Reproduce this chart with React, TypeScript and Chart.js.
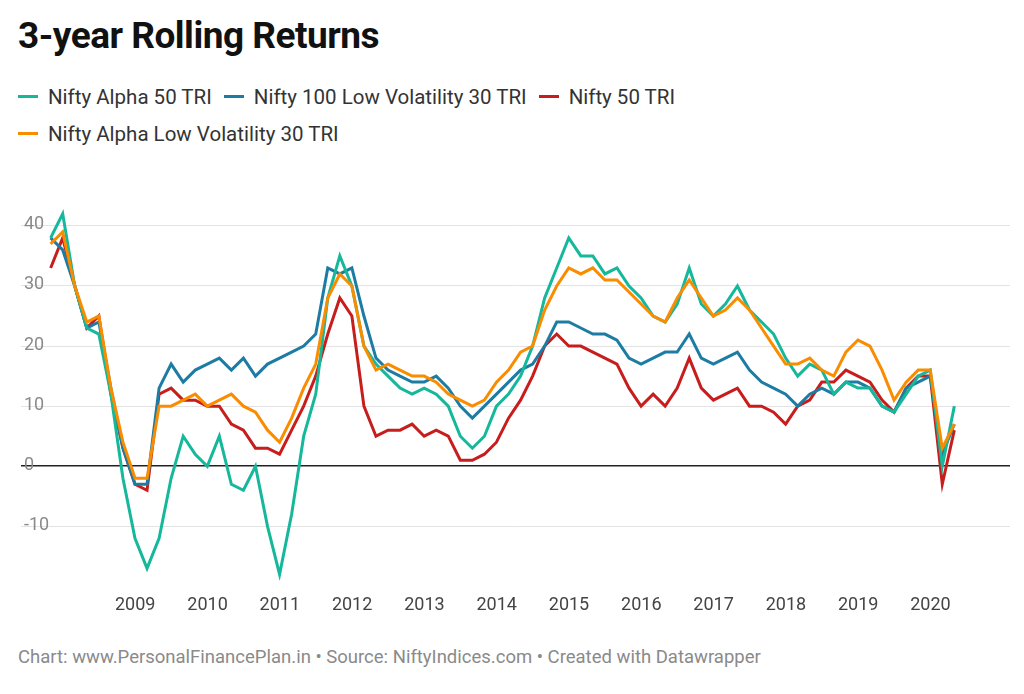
import React, { useEffect, useRef } from "react";
import { Chart, registerables } from "chart.js";
Chart.register(...registerables);

const startYear = 2008.33;
const step = 1 / 6;
const alpha50 = [38,42,30,23,22,12,-2,-12,-17,-12,-2,5,2,0,5,-3,-4,0,-10,-18,-8,5,12,28,35,30,20,17,15,13,12,13,12,10,5,3,5,10,12,15,20,28,33,38,35,35,32,33,30,28,25,24,27,33,27,25,27,30,26,24,22,18,15,17,16,12,14,13,13,10,9,12,15,16,0,10];
const lowVol100 = [38,36,30,23,24,13,3,-3,-3,13,17,14,16,17,18,16,18,15,17,18,19,20,22,33,32,33,25,18,16,15,14,14,15,13,10,8,10,12,14,16,17,20,24,24,23,22,22,21,18,17,18,19,19,22,18,17,18,19,16,14,13,12,10,12,13,12,14,14,13,10,9,13,14,15,2,7];
const nifty50 = [33,38,30,23,25,12,3,-3,-4,12,13,11,11,10,10,7,6,3,3,2,6,10,15,22,28,25,10,5,6,6,7,5,6,5,1,1,2,4,8,11,15,20,22,20,20,19,18,17,13,10,12,10,13,18,13,11,12,13,10,10,9,7,10,11,14,14,16,15,14,11,9,13,15,15,-3,6];
const alphaLowVol30 = [37,39,30,24,25,13,4,-2,-2,10,10,11,12,10,11,12,10,9,6,4,8,13,17,28,32,30,20,16,17,16,15,15,14,12,11,10,11,14,16,19,20,26,30,33,32,33,31,31,29,27,25,24,28,31,28,25,26,28,26,23,20,17,17,18,16,15,19,21,20,16,11,14,16,16,3,7];
const yearLabels = [2009,2010,2011,2012,2013,2014,2015,2016,2017,2018,2019,2020];
const yTicks = [-10,0,10,20,30,40];

const series = [
  { label: "Nifty Alpha 50 TRI", color: "#15b89a", data: alpha50 },
  { label: "Nifty 100 Low Volatility 30 TRI", color: "#1d7ca3", data: lowVol100 },
  { label: "Nifty 50 TRI", color: "#c71e1d", data: nifty50 },
  { label: "Nifty Alpha Low Volatility 30 TRI", color: "#fa8c00", data: alphaLowVol30 },
];
const drawOrder = [3, 0, 1, 2];

export default function App() {
  const ref = useRef<HTMLCanvasElement>(null);
  useEffect(() => {
    document.body.style.margin = "0";
    const chart = new Chart(ref.current!, {
      type: "line",
      data: {
        datasets: drawOrder.map((k) => {
          const s = series[k];
          return {
            label: s.label,
            data: s.data.map((v, i) => ({ x: startYear + i * step, y: v })),
            borderColor: s.color,
            borderWidth: 3,
            pointRadius: 0,
            tension: 0,
          };
        }),
      },
      options: {
        animation: false,
        responsive: false,
        plugins: { legend: { display: false }, tooltip: { enabled: false } },
        layout: { padding: 0 },
        scales: {
          x: {
            type: "linear",
            min: 2007.92,
            max: 2021.6,
            afterBuildTicks: (ax: any) => { ax.ticks = yearLabels.map((y) => ({ value: y + 0.5 })); },
            ticks: { callback: (v: any) => String(Math.floor(Number(v))), color: "#444", font: { family: "Roboto", size: 18 }, maxRotation: 0, autoSkip: false, padding: 6 },
            grid: { display: false },
            border: { display: false },
          },
          y: {
            min: -19,
            max: 49.5,
            afterBuildTicks: (ax: any) => { ax.ticks = yTicks.map((v) => ({ value: v })); },
            ticks: { mirror: true, padding: 3, color: "#8a8a8a", font: { family: "Roboto", size: 18 }, labelOffset: -1 },
            grid: {
              color: (c: any) => (c.tick && c.tick.value === 0 ? "#222" : "#e3e3e3"),
              lineWidth: (c: any) => (c.tick && c.tick.value === 0 ? 1.5 : 1),
              drawTicks: false,
            },
            border: { display: false },
          },
        },
      },
    });
    return () => chart.destroy();
  }, []);

  const font = "Roboto, sans-serif";
  const legendItem = (s: any) => (
    <span key={s.label} style={{ display: "inline-flex", alignItems: "center", marginRight: 12 }}>
      <span style={{ width: 20, height: 3, background: s.color, display: "inline-block", marginRight: 10 }} />
      <span>{s.label}</span>
    </span>
  );
  return (
    <div style={{ position: "relative", width: 1024, height: 694, fontFamily: font, background: "#fff" }}>
      <div style={{ position: "absolute", left: 18, top: 14, fontSize: 37, fontWeight: 700, color: "#111", letterSpacing: -0.5 }}>3-year Rolling Returns</div>
      <div style={{ position: "absolute", left: 18, top: 79, fontSize: 20.5, color: "#333" }}>
        {series.slice(0, 3).map(legendItem)}
      </div>
      <div style={{ position: "absolute", left: 18, top: 116, fontSize: 20.5, color: "#333" }}>
        {series.slice(3).map(legendItem)}
      </div>
      <canvas ref={ref} width={995} height={467} style={{ position: "absolute", left: 15, top: 155 }} />
      <div style={{ position: "absolute", left: 18, top: 646, fontSize: 18.5, color: "#8a8a8a" }}>
        Chart: www.PersonalFinancePlan.in • Source: NiftyIndices.com • Created with Datawrapper
      </div>
    </div>
  );
}
